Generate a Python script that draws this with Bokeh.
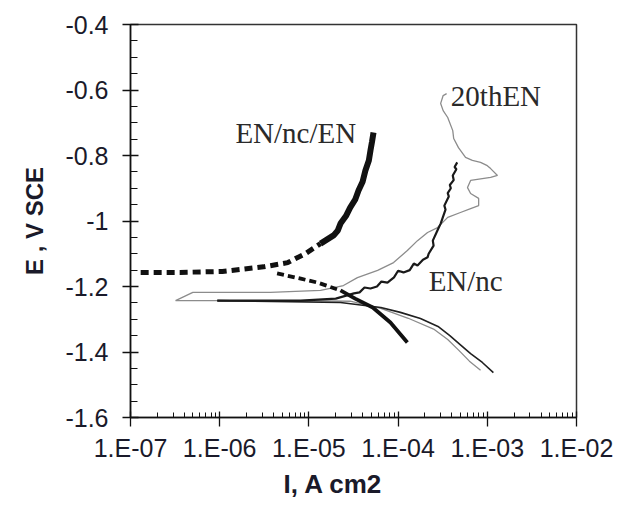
from bokeh.plotting import figure
from bokeh.models import Range1d, FixedTicker, CustomJSTickFormatter, Title, ColumnDataSource
from bokeh.core.properties import value
from bokeh.embed import file_html
from bokeh.resources import INLINE

# ---------------- data (current density A/cm2, potential V vs SCE) ----------------
# EN/nc/EN : anodic branch (from Ecorr upwards)
enen_an_i = [1.3e-7, 3.6e-7, 1.07e-6, 1.7e-6, 3.1e-6, 5.8e-6, 9.2e-6, 1.35e-5,
             1.89e-5, 2.1e-5, 2.26e-5, 2.6e-5, 2.9e-5, 3.3e-5, 3.6e-5, 4.0e-5,
             4.3e-5, 4.7e-5, 4.9e-5, 5.1e-5, 5.3e-5]
enen_an_e = [-1.157, -1.157, -1.154, -1.148, -1.140, -1.127, -1.099, -1.069,
             -1.044, -1.030, -1.008, -0.985, -0.959, -0.935, -0.907, -0.880,
             -0.846, -0.815, -0.785, -0.758, -0.730]
# EN/nc/EN : cathodic branch
enen_ca_i = [4.4e-6, 8.1e-6, 1.25e-5, 2.26e-5, 3.3e-5, 5.2e-5, 8.2e-5, 1.27e-4]
enen_ca_e = [-1.160, -1.176, -1.188, -1.212, -1.237, -1.264, -1.310, -1.371]

# EN/nc : anodic branch (from top down to Ecorr)
ennc_an_i = [4.6e-4, 4.3e-4, 4.5e-4, 4.1e-4, 4.2e-4, 3.8e-4, 3.9e-4, 3.6e-4, 3.7e-4,
             3.3e-4, 3.4e-4, 3.0e-4, 2.8e-4, 2.45e-4, 2.5e-4, 2.2e-4, 2.14e-4, 1.9e-4,
             1.65e-4, 1.5e-4, 1.35e-4, 1.15e-4, 1.0e-4, 9.0e-5, 7.6e-5, 6.5e-5, 5.8e-5,
             4.9e-5, 4.2e-5, 3.7e-5, 3.2e-5, 2.0e-5, 8.1e-6, 9.4e-7]
ennc_an_e = [-0.821, -0.835, -0.842, -0.861, -0.875, -0.890, -0.900, -0.915, -0.925,
             -0.953, -0.965, -1.008, -1.025, -1.060, -1.075, -1.100, -1.111, -1.118,
             -1.136, -1.130, -1.150, -1.157, -1.152, -1.172, -1.188, -1.185, -1.200,
             -1.206, -1.203, -1.218, -1.221, -1.237, -1.243, -1.243]
# EN/nc : cathodic branch
ennc_ca_i = [9.4e-7, 2.26e-5, 6.4e-5, 1.06e-4, 1.78e-4, 2.8e-4, 3.8e-4, 5.0e-4,
             6.5e-4, 8.8e-4, 1.17e-3]
ennc_ca_e = [-1.243, -1.249, -1.264, -1.279, -1.298, -1.322, -1.350, -1.378,
             -1.405, -1.432, -1.463]

# 20thEN : full scan (anodic top -> Ecorr -> cathodic)
en20_i = [3.5e-4, 3.2e-4, 3.0e-4, 3.2e-4, 3.6e-4, 4.1e-4, 4.2e-4, 4.75e-4, 5.7e-4,
          6.8e-4, 8.4e-4, 1.0e-3, 1.09e-3, 1.3e-3, 1.09e-3, 6.5e-4, 6.0e-4, 6.5e-4,
          8.0e-4, 8.0e-4, 6.5e-4, 5.0e-4, 3.6e-4, 2.77e-4, 2.14e-4, 1.65e-4, 1.27e-4,
          8.9e-5, 5.9e-5, 3.5e-5, 2.44e-5, 1.35e-5, 3.7e-6, 5.0e-7, 3.2e-7, 8.1e-6,
          2.9e-5, 6.4e-5, 1.3e-4, 2.5e-4, 3.6e-4, 4.8e-4, 6.3e-4, 8.4e-4]
en20_e = [-0.611, -0.617, -0.641, -0.663, -0.684, -0.724, -0.748, -0.776, -0.806,
          -0.815, -0.821, -0.831, -0.840, -0.861, -0.867, -0.876, -0.898, -0.916,
          -0.931, -0.953, -0.962, -0.974, -0.989, -1.020, -1.035, -1.060, -1.090,
          -1.127, -1.151, -1.173, -1.197, -1.212, -1.218, -1.218, -1.243, -1.243,
          -1.245, -1.267, -1.297, -1.330, -1.362, -1.395, -1.428, -1.456]

# curve labels
lab_text = ["EN/nc/EN", "20thEN", "EN/nc"]
lab_i = [1.5e-6, 3.9e-4, 2.2e-4]
lab_e = [-0.730, -0.617, -1.182]

# axes
x_ticks = [1e-7, 1e-6, 1e-5, 1e-4, 1e-3, 1e-2]
y_ticks = [-1.6, -1.4, -1.2, -1.0, -0.8, -0.6, -0.4]
x_title = "I, A cm2"
y_title = "E , V SCE"

# ---------------- figure ----------------
p = figure(width=618, height=508, x_axis_type="log",
           x_range=Range1d(1e-7, 1e-2), y_range=Range1d(-1.6, -0.4),
           output_backend="svg", toolbar_location=None,
           min_border_left=130, min_border_right=42, min_border_top=24,
           min_border_bottom=91, background_fill_color="white",
           border_fill_color="white")
p.grid.visible = False
p.outline_line_color = "#333333"
p.outline_line_width = 1.5

x_minor = [m * t for t in x_ticks[:-1] for m in range(2, 10)]
y_minor = [round(-1.6 + 0.05 * k, 2) for k in range(25)]
p.xaxis.ticker = FixedTicker(ticks=x_ticks, minor_ticks=x_minor)
p.yaxis.ticker = FixedTicker(ticks=y_ticks, minor_ticks=y_minor)
p.xaxis.formatter = CustomJSTickFormatter(code="""
    const e = Math.round(Math.log10(tick));
    return '1.E' + (e < 0 ? '-' : '+') + String(Math.abs(e)).padStart(2, '0');
""")
p.yaxis.formatter = CustomJSTickFormatter(code="return String(Math.round(tick*10)/10);")

for ax in (p.xaxis[0], p.yaxis[0]):
    ax.axis_line_color = "#111111"
    ax.axis_line_width = 1.5
    ax.major_tick_line_color = "#111111"
    ax.minor_tick_line_color = "#111111"
    ax.major_tick_line_width = 1.3
    ax.minor_tick_line_width = 1.0
    ax.major_label_text_font = "Liberation Sans"
    ax.major_label_text_font_size = "25px"
    ax.major_label_text_color = "#1a1a2a"

p.xaxis.major_tick_in = 6
p.xaxis.major_tick_out = 9
p.xaxis.minor_tick_in = 5
p.xaxis.minor_tick_out = 0
p.xaxis.major_label_standoff = 7

p.yaxis.major_tick_in = 8
p.yaxis.major_tick_out = 8
p.yaxis.minor_tick_in = 7
p.yaxis.minor_tick_out = 0
p.yaxis.major_label_standoff = 14

p.yaxis.axis_label = y_title
p.yaxis.axis_label_text_font = "Liberation Sans"
p.yaxis.axis_label_text_font_style = "bold"
p.yaxis.axis_label_text_font_size = "24px"
p.yaxis.axis_label_text_color = "#1a1a2a"
p.yaxis.axis_label_standoff = 14

xt = Title(text=x_title, align="left", offset=153, standoff=4,
           text_font="Liberation Sans", text_font_style="bold",
           text_font_size="26px", text_color="#1a1a2a")
p.add_layout(xt, "below")

# ---------------- curves ----------------
# 20thEN (gray thin)
p.line(en20_i, en20_e, line_color="#8c8c8c", line_width=1.3)

# EN/nc (black thin, jagged)
p.line(ennc_ca_i, ennc_ca_e, line_color="#202020", line_width=1.6)
p.line(ennc_an_i, ennc_an_e, line_color="#1a1a1a", line_width=2.2)

# EN/nc/EN (black thick, dotted near Ecorr)
p.line(enen_an_i[:8], enen_an_e[:8], line_color="#111111", line_width=5,
       line_dash="8 5")
p.line(enen_an_i[7:], enen_an_e[7:], line_color="#111111", line_width=6)
p.line(enen_ca_i[:4], enen_ca_e[:4], line_color="#111111", line_width=3.8,
       line_dash="7 4")
p.line(enen_ca_i[3:], enen_ca_e[3:], line_color="#111111", line_width=3.8)

# labels
src = ColumnDataSource(dict(x=lab_i, y=lab_e, t=lab_text))
p.text(x="x", y="y", text="t", source=src, text_font=value("Liberation Serif"),
       text_font_size="29px", text_color="#2a2a2a", text_align="left",
       text_baseline="alphabetic")

open("out.html", "w").write(file_html(p, INLINE))
